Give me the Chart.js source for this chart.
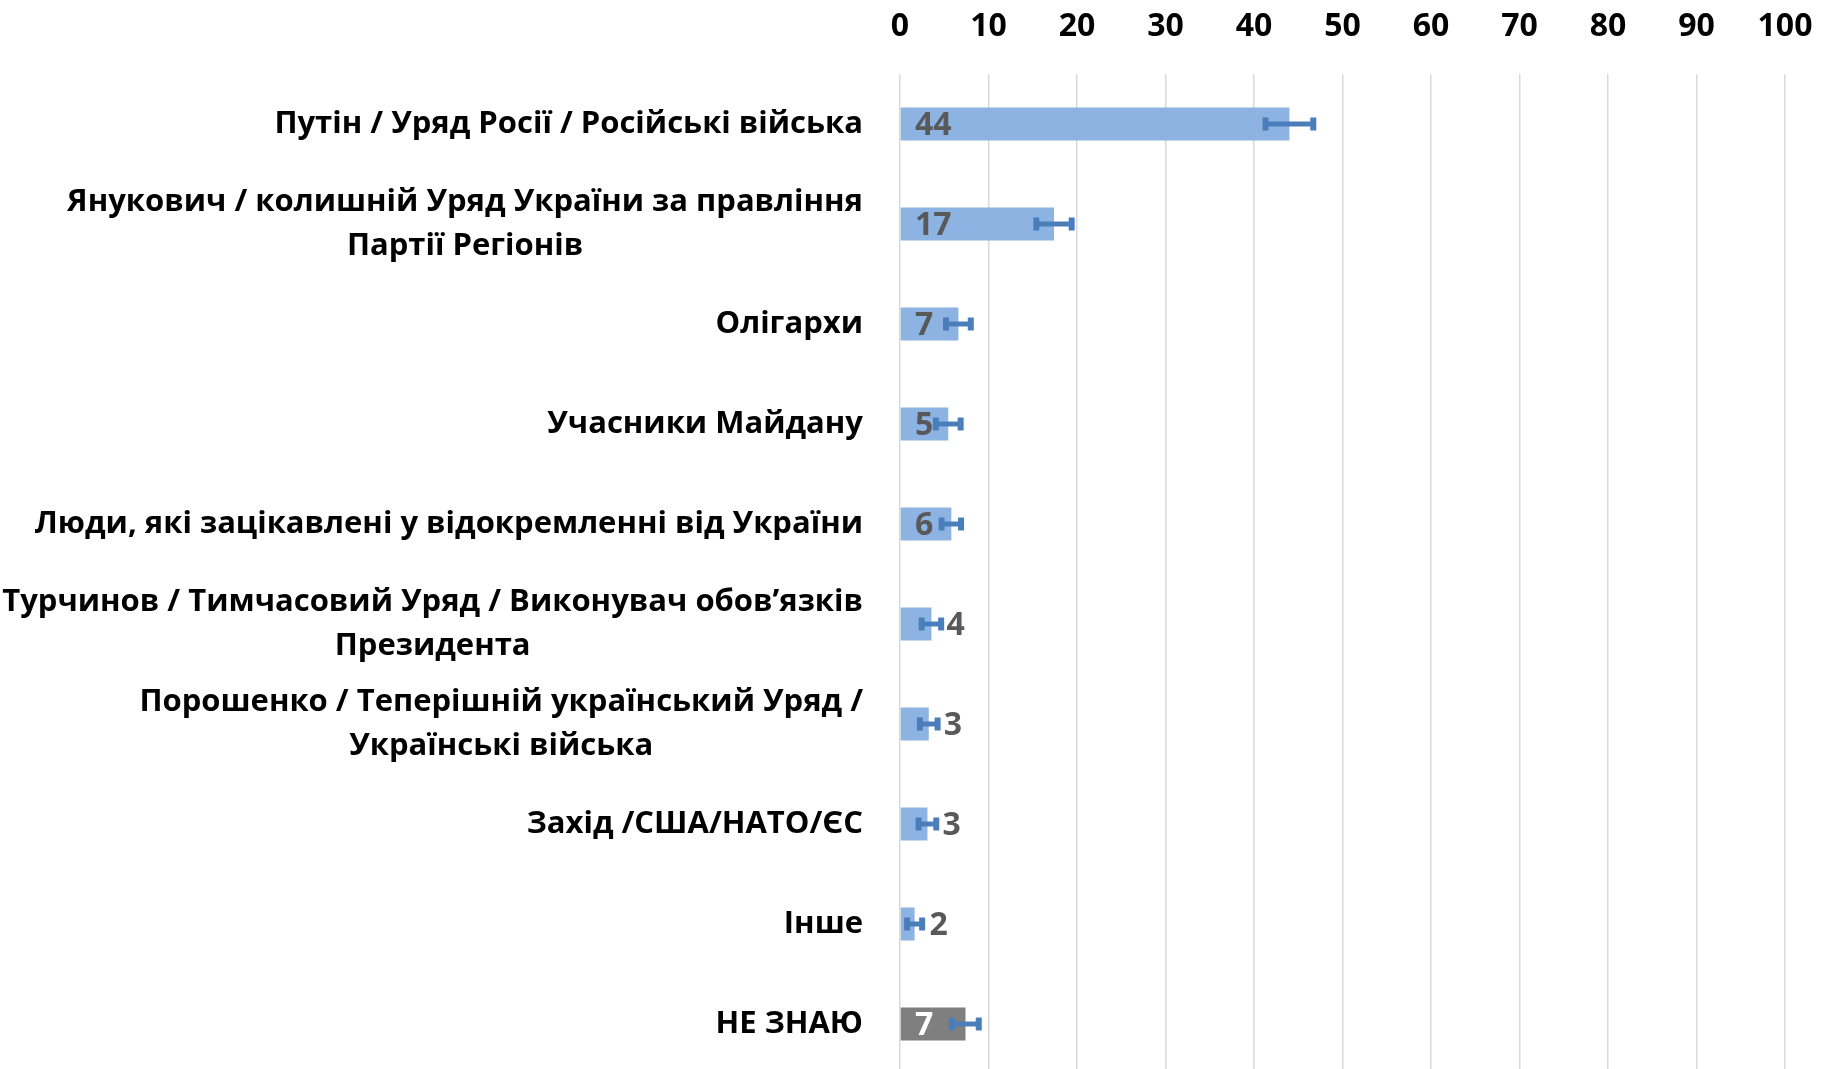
<!DOCTYPE html>
<html>
<head>
<meta charset="utf-8">
<script src="https://cdn.jsdelivr.net/npm/chart.js@4/dist/chart.umd.min.js"></script>
<style>
html,body{margin:0;padding:0;background:#fff;overflow:hidden;}
#wrap{position:relative;width:1833px;height:1074px;}
</style>
</head>
<body>
<div id="wrap"><canvas id="c"></canvas></div>
<script>
// ---- data ----
const categories = [
  ['Путін / Уряд Росії / Російські війська'],
  ['Янукович / колишній Уряд України за правління', 'Партії Регіонів'],
  ['Олігархи'],
  ['Учасники Майдану'],
  ['Люди, які зацікавлені у відокремленні від України'],
  ['Турчинов / Тимчасовий Уряд / Виконувач обов’язків', 'Президента'],
  ['Порошенко / Теперішній український Уряд /', 'Українські війська'],
  ['Захід /США/НАТО/ЄС'],
  ['Інше'],
  ['НЕ ЗНАЮ']
];
const values = [44.0, 17.4, 6.6, 5.45, 5.8, 3.55, 3.25, 3.1, 1.65, 7.4];
const errorMargins = [2.7, 2.0, 1.4, 1.4, 1.1, 1.1, 1.0, 1.0, 0.85, 1.5];
const valueLabels = ['44', '17', '7', '5', '6', '4', '3', '3', '2', '7'];
const xTicks = [0, 10, 20, 30, 40, 50, 60, 70, 80, 90, 100];

const BLUE = '#8db3e2', GREY = '#7f7f7f', ERR = '#4a7ebb';
const FONT = '"Open Sans", "DejaVu Sans", sans-serif';

const barColors = categories.map((c, i) => i === categories.length - 1 ? GREY : BLUE);

const overlay = {
  id: 'overlay',
  afterDatasetsDraw(chart) {
    const ctx = chart.ctx;
    const xs = chart.scales.x, ys = chart.scales.y;
    ctx.save();
    // error bars
    values.forEach((v, i) => {
      const y = ys.getPixelForValue(i);
      const x1 = xs.getPixelForValue(v - errorMargins[i]);
      const x2 = xs.getPixelForValue(v + errorMargins[i]);
      ctx.strokeStyle = ERR;
      ctx.lineWidth = 5;
      ctx.beginPath(); ctx.moveTo(x1, y); ctx.lineTo(x2, y); ctx.stroke();
      ctx.fillStyle = ERR;
      ctx.fillRect(x1 - 3, y - 6.5, 6, 13);
      ctx.fillRect(x2 - 3, y - 6.5, 6, 13);
    });
    // value labels
    ctx.font = 'bold 32px ' + FONT;
    ctx.textBaseline = 'middle';
    ctx.textAlign = 'left';
    values.forEach((v, i) => {
      const y = ys.getPixelForValue(i) + 2;
      const inside = v >= 5;
      const x = inside ? xs.getPixelForValue(0) + 15 : xs.getPixelForValue(v) + 15;
      ctx.fillStyle = (i === values.length - 1) ? '#ffffff' : '#595959';
      ctx.fillText(valueLabels[i], x, y);
    });
    // category labels: block right-aligned, lines centered in block
    ctx.font = 'bold 31px ' + FONT;
    ctx.fillStyle = '#000000';
    ctx.textAlign = 'center';
    const right = xs.getPixelForValue(0) - 37;
    const lh = 44;
    categories.forEach((lines, i) => {
      const yc = ys.getPixelForValue(i);
      const w = Math.max(...lines.map(l => ctx.measureText(l).width));
      const cx = right - w / 2;
      const y0 = yc - (lines.length - 1) * lh / 2;
      lines.forEach((l, k) => ctx.fillText(l, cx, y0 + k * lh));
    });
    ctx.restore();
  }
};

new Chart(document.getElementById('c'), {
  type: 'bar',
  data: {
    labels: categories.map(c => c.join(' ')),
    datasets: [{
      data: values,
      backgroundColor: barColors,
      borderWidth: 0,
      categoryPercentage: 1,
      barPercentage: 0.33
    }]
  },
  options: {
    indexAxis: 'y',
    responsive: true,
    maintainAspectRatio: false,
    animation: false,
    layout: { padding: { left: 900, right: 48, top: 4, bottom: 0 } },
    plugins: { legend: { display: false }, tooltip: { enabled: false } },
    scales: {
      x: {
        position: 'top',
        min: 0, max: 100,
        afterBuildTicks: (s) => { s.ticks = xTicks.map(v => ({ value: v })); },
        afterFit: (s) => { s.height = 70; s.paddingLeft = 0; s.paddingRight = 0; },
        ticks: { color: '#000', font: { family: FONT, size: 32, weight: 'bold' }, padding: 28, maxRotation: 0 },
        grid: { color: '#d9d9d9', lineWidth: 1.5, drawTicks: false },
        border: { display: false }
      },
      y: {
        display: false,
        grid: { display: false }
      }
    }
  },
  plugins: [overlay]
});
</script>
</body>
</html>
